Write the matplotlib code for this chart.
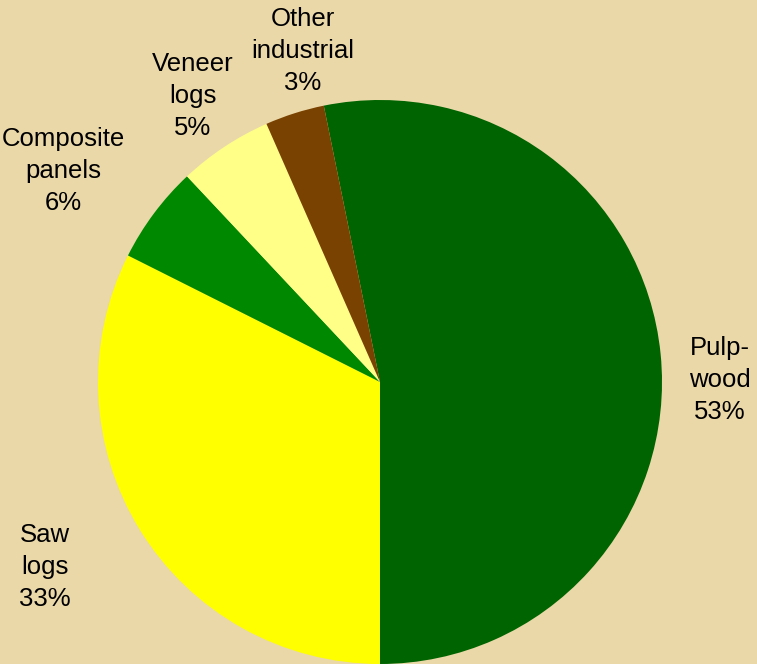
import matplotlib
matplotlib.use("Agg")
import matplotlib.pyplot as plt

categories = ["Pulpwood", "Saw logs", "Composite panels", "Veneer logs", "Other industrial"]
values = [53.2, 32.4, 5.6, 5.4, 3.4]
label_texts = ["Pulp-\nwood\n53%", "Saw\nlogs\n33%", "Composite\npanels\n6%", "Veneer\nlogs\n5%", "Other\nindustrial\n3%"]
colors = ["#006400", "#FFFF00", "#008800", "#FFFF88", "#7A4200"]

W, H = 757, 664
fig = plt.figure(figsize=(W / 100, H / 100), dpi=100)
fig.patch.set_facecolor("#EAD8A9")
ax = fig.add_axes([0, 0, 1, 1])
ax.set_facecolor("#EAD8A9")

cx, cy, r = 380, 382, 282
wedges, _ = ax.pie(values, colors=colors, startangle=-101.5, counterclock=True,
                   radius=r, center=(cx, cy), frame=True,
                   wedgeprops=dict(linewidth=0))
ax.set_xlim(0, W)
ax.set_ylim(H, 0)
ax.set_aspect("equal")
ax.axis("off")

label_pos = [(720, 380), (45, 567), (63, 171), (193, 96), (303, 51)]
for txt, (x, y) in zip(label_texts, label_pos):
    ax.text(x, y, txt, ha="center", va="center", fontsize=18.5,
            family="Liberation Sans", linespacing=1.42, color="#000000")

fig.savefig("out.png", dpi=100, facecolor=fig.get_facecolor())
